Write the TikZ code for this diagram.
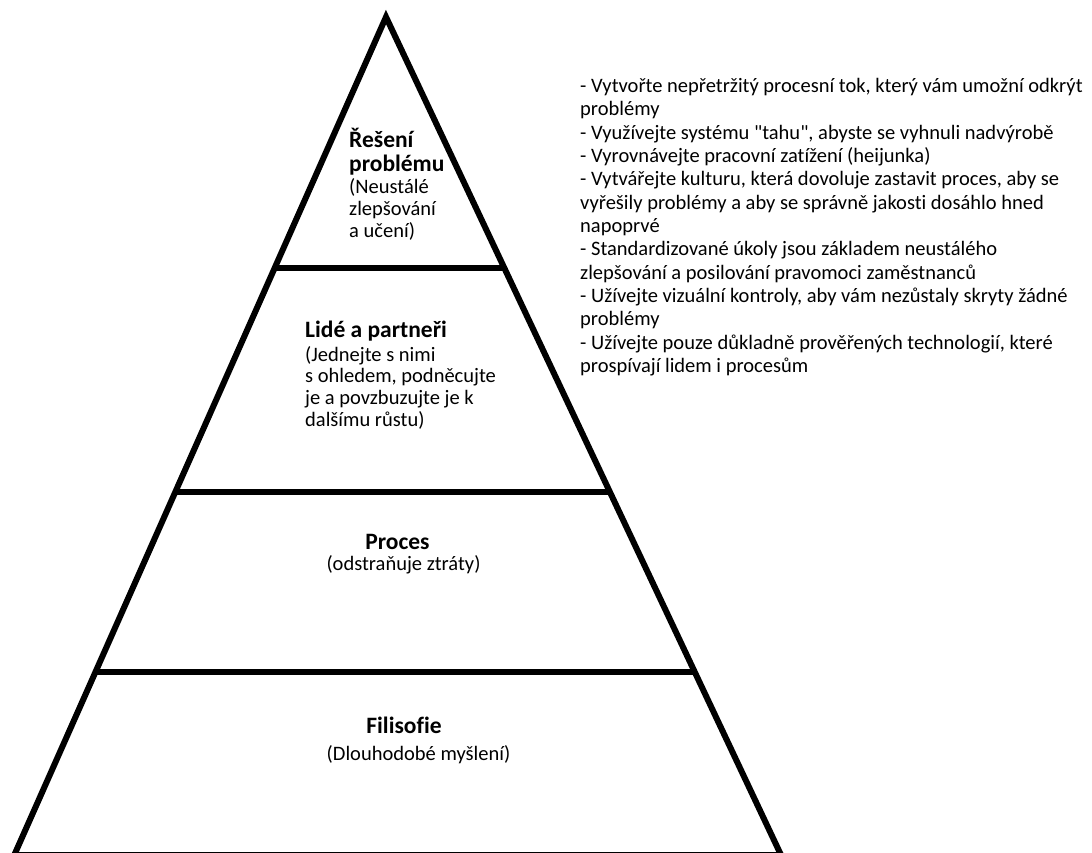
\documentclass[tikz,border=0pt]{standalone}
\usepackage{fontspec}
\setmainfont{Carlito}[Ligatures={NoCommon}]
\usetikzlibrary{calc}
\newcommand{\stacklines}[1]{\begin{tabular}[t]{@{}l@{}}#1\end{tabular}}
\begin{document}
\begin{tikzpicture}[x=1pt,y=-1pt,
  edge/.style={line width=6pt, line join=miter},
  head/.style={font=\fontsize{23.5}{23.7}\selectfont\bfseries, inner sep=0pt},
  body/.style={font=\fontsize{20.5}{21.9}\selectfont, inner sep=0pt},
  note/.style={font=\fontsize{20.5}{23.35}\selectfont, inner sep=0pt},
]
\useasboundingbox (0,0) rectangle (1092,853);

% outline of the pyramid
\coordinate (apex) at (386,17);
\coordinate (bl) at (14.3,855);
\coordinate (br) at (781,855);
\draw[edge] (bl) -- (apex) -- (br) -- cycle;

% dividing levels
\coordinate (l1) at ($(apex)!0.2995!(bl)$);
\coordinate (r1) at ($(apex)!0.2995!(br)$);
\coordinate (l2) at ($(apex)!0.5668!(bl)$);
\coordinate (r2) at ($(apex)!0.5668!(br)$);
\coordinate (l3) at ($(apex)!0.7816!(bl)$);
\coordinate (r3) at ($(apex)!0.7816!(br)$);
\draw[edge] (l1) -- (r1);
\draw[edge] (l2) -- (r2);
\draw[edge] (l3) -- (r3);

% level texts
\node[head, anchor=base west] (reseni) at (349,148) {\stacklines{Řešení\\problému}};
\node[body, anchor=base west] (reseniText) at (349,193.3) {\stacklines{(Neustálé\\zlepšování\\a učení)}};

\node[head, anchor=base west] (lide) at (305,337) {Lidé a partneři};
\node[body, anchor=base west] (lideText) at (305,361) {\stacklines{(Jednejte s nimi\\s ohledem, podněcujte\\je a povzbuzujte je k\\dalšímu růstu)}};

\node[head, anchor=base] (proces) at (397.5,549) {Proces};
\node[body, anchor=base] (procesText) at (403.5,570) {(odstraňuje ztráty)};

\node[head, anchor=base] (filosofie) at (404,733) {Filisofie};
\node[body, anchor=base] (filosofieText) at (418.5,760) {(Dlouhodobé myšlení)};

% principles listed beside the pyramid
\node[note, anchor=base west] (principy) at (580,92.4) {\stacklines{%
- Vytvořte nepřetržitý procesní tok, který vám umožní odkrýt\\
problémy\\
- Využívejte systému \textquotedbl tahu\textquotedbl, abyste se vyhnuli nadvýrobě\\
- Vyrovnávejte pracovní zatížení (heijunka)\\
- Vytvářejte kulturu, která dovoluje zastavit proces, aby se\\
vyřešily problémy a aby se správně jakosti dosáhlo hned\\
napoprvé\\
- Standardizované úkoly jsou základem neustálého\\
zlepšování a posilování pravomoci zaměstnanců\\
- Užívejte vizuální kontroly, aby vám nezůstaly skryty žádné\\
problémy\\
- Užívejte pouze důkladně prověřených technologií, které\\
prospívají lidem i procesům}};
\end{tikzpicture}
\end{document}
